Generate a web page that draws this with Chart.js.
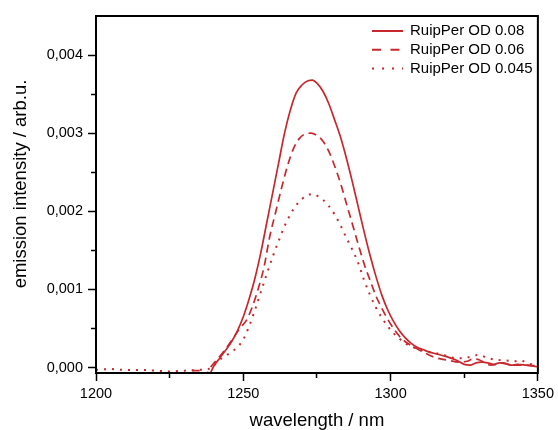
<!DOCTYPE html>
<html lang="en">
<head>
  <meta charset="UTF-8" />
  <title>RuipPer emission</title>
  <script src="https://cdn.jsdelivr.net/npm/chart.js"></script>
  <style>
    html, body { margin: 0; padding: 0; background: #fff; }
    #wrap { width: 558px; height: 430px; }
  </style>
</head>
<body>
<div id="wrap"><canvas id="emChart" width="558" height="430"></canvas></div>
<script>
  // wavelength (nm) / emission intensity (arb.u.)
  const wl08 = [1238.5, 1240, 1242, 1244, 1246, 1248, 1250, 1252, 1254, 1256, 1258, 1260, 1262, 1264, 1266, 1268, 1270, 1272, 1273.5, 1275, 1277, 1279, 1281, 1283, 1285, 1287, 1289, 1291, 1293, 1295, 1297, 1299, 1301, 1303, 1305, 1307, 1309, 1311, 1313, 1316, 1319, 1322, 1325, 1327, 1329, 1331, 1333, 1335, 1337, 1339, 1341, 1343, 1346, 1348, 1350];
  const em08 = [-0.0001, 0.00002, 0.00012, 0.00022, 0.00033, 0.00047, 0.00065, 0.00088, 0.00115, 0.00148, 0.00186, 0.00224, 0.00262, 0.003, 0.0033, 0.00352, 0.00362, 0.00367, 0.00368, 0.00364, 0.00354, 0.00338, 0.00317, 0.00295, 0.00268, 0.00238, 0.00206, 0.00174, 0.00144, 0.00117, 0.00093, 0.00074, 0.00059, 0.00047, 0.00038, 0.00031, 0.00026, 0.00023, 0.0002, 0.00017, 0.00014, 0.0001, 0.00004, 0.00003, 0.00006, 0.00007, 0.00006, 0.00004, 0.00006, 0.00005, 0.00003, 0.00004, 0.00003, 0.00002, 0.00001];

  const wl06 = [1232.5, 1236, 1237, 1239, 1241, 1243, 1245, 1247, 1249, 1251, 1253, 1255, 1257, 1259, 1261, 1263, 1265, 1267, 1269, 1271, 1273, 1275, 1277, 1279, 1281, 1283, 1285, 1287, 1289, 1291, 1293, 1295, 1297, 1299, 1301, 1303, 1305, 1307, 1309, 1311, 1313, 1315, 1317, 1320, 1323, 1326, 1328, 1330, 1332, 1334, 1336, 1338, 1340, 1343, 1346, 1350];
  const em06 = [-0.00004, -0.00004, -0.0001, 0.00001, 0.0001, 0.00019, 0.00029, 0.0004, 0.00051, 0.0006, 0.00077, 0.001, 0.00128, 0.00168, 0.00199, 0.0023, 0.00258, 0.0028, 0.00293, 0.00299, 0.003, 0.00297, 0.0029, 0.00277, 0.00258, 0.00236, 0.0021, 0.00184, 0.00158, 0.00133, 0.00112, 0.00092, 0.00076, 0.00062, 0.0005, 0.0004, 0.00033, 0.00028, 0.00024, 0.0002, 0.00016, 0.00013, 0.00011, 0.00009, 0.00007, 0.00008, 0.00011, 0.0001, 0.00006, 0.00003, 0.00004, 0.00006, 0.00004, 0.00003, 0.00003, 0.00002];

  const wl045 = [1200, 1205, 1210, 1215, 1220, 1225, 1230, 1235, 1238, 1240, 1242, 1244, 1246, 1248, 1250, 1252, 1254, 1256, 1258, 1260, 1262, 1264, 1266, 1268, 1270, 1272, 1273.5, 1275, 1277, 1279, 1281, 1283, 1285, 1287, 1289, 1291, 1293, 1295, 1297, 1299, 1301, 1303, 1305, 1307, 1310, 1313, 1316, 1319, 1322, 1325, 1328, 1330, 1333, 1336, 1339, 1342, 1344, 1347, 1350];
  const em045 = [-0.00003, -0.00002, -0.00003, -0.00003, -0.00004, -0.00005, -0.00004, -0.00003, -0.00002, 0.00003, 0.0001, 0.00015, 0.0002, 0.00026, 0.00036, 0.00053, 0.00074, 0.00097, 0.0012, 0.00142, 0.00162, 0.00181, 0.00196, 0.00208, 0.00216, 0.00221, 0.00222, 0.0022, 0.00215, 0.00207, 0.00196, 0.00182, 0.00166, 0.00151, 0.00134, 0.00112, 0.00093, 0.00077, 0.00064, 0.00053, 0.00044, 0.00037, 0.00031, 0.00027, 0.00023, 0.0002, 0.00018, 0.00015, 0.00012, 0.00012, 0.00015, 0.00016, 0.00012, 0.0001, 0.00009, 0.00008, 0.00009, 0.00005, 0.00003];

  const seriesNames = ['RuipPer OD 0.08', 'RuipPer OD 0.06', 'RuipPer OD 0.045'];

  const xTicks = [1200, 1250, 1300, 1350];
  const xMinor = [1225, 1275, 1325];
  const yTicks = [0, 0.001, 0.002, 0.003, 0.004];
  const yMinor = [0.0005, 0.0015, 0.0025, 0.0035];

  const RED = '#c8282d';
  const FONT = "'Liberation Sans', Arial, sans-serif";
  const dashes = [[], [8, 5], [2, 6]];
  const legendDashes = [[], [9, 9.5], [2, 8]];

  const pts = (xs, ys) => xs.map((x, i) => ({ x: x, y: ys[i] }));

  const frameAndLegend = {
    id: 'frameAndLegend',
    afterDraw(chart) {
      const ctx = chart.ctx;
      const a = chart.chartArea;
      ctx.save();
      ctx.strokeStyle = '#000';
      ctx.lineWidth = 2;
      ctx.strokeRect(a.left, a.top, a.right - a.left, a.bottom - a.top);

      // legend, top right inside the frame
      ctx.font = '15px ' + FONT;
      ctx.textBaseline = 'middle';
      ctx.textAlign = 'left';
      seriesNames.forEach((name, i) => {
        const y = 31 + i * 18.7;
        ctx.strokeStyle = RED;
        ctx.lineWidth = 2;
        ctx.setLineDash(legendDashes[i]);
        ctx.beginPath();
        ctx.moveTo(372, y);
        ctx.lineTo(403, y);
        ctx.stroke();
        ctx.setLineDash([]);
        ctx.fillStyle = '#000';
        ctx.fillText(name, 410, y);
      });

      // y axis title
      ctx.translate(21, 184);
      ctx.rotate(-Math.PI / 2);
      ctx.font = '18.5px ' + FONT;
      ctx.textAlign = 'center';
      ctx.fillStyle = '#000';
      ctx.fillText('emission intensity / arb.u.', 0, 0);
      ctx.restore();
    }
  };

  const ctx = document.getElementById('emChart').getContext('2d');
  new Chart(ctx, {
    type: 'line',
    data: {
      datasets: [
        { label: seriesNames[0], data: pts(wl08, em08) },
        { label: seriesNames[1], data: pts(wl06, em06) },
        { label: seriesNames[2], data: pts(wl045, em045) }
      ].map((d, i) => Object.assign(d, {
        borderColor: RED,
        borderWidth: i === 2 ? 2 : 1.7,
        borderDash: dashes[i],
        pointRadius: 0,
        fill: false,
        cubicInterpolationMode: 'monotone'
      }))
    },
    options: {
      responsive: false,
      animation: false,
      layout: { padding: { top: 16, right: 17, left: 0, bottom: 0 } },
      plugins: { legend: { display: false }, tooltip: { enabled: false } },
      scales: {
        x: {
          type: 'linear',
          min: 1200,
          max: 1350,
          afterBuildTicks: s => { s.ticks = xTicks.concat(xMinor).sort((p, q) => p - q).map(v => ({ value: v })); },
          afterFit: s => { s.height = 57; },
          ticks: {
            autoSkip: false,
            maxRotation: 0,
            padding: 4,
            color: '#000',
            font: { family: FONT, size: 14.5 },
            callback: v => xTicks.includes(v) ? String(v) : ''
          },
          grid: {
            drawOnChartArea: false,
            drawTicks: true,
            tickLength: 8,
            tickColor: '#000',
            tickWidth: 1.5,
            tickBorderDash: c => xMinor.includes(c.tick && c.tick.value) ? [4, 20] : []
          },
          border: { display: true, color: '#000', width: 2 },
          title: {
            display: true,
            text: 'wavelength / nm',
            color: '#000',
            font: { family: FONT, size: 18.5, lineHeight: 1 },
            padding: { top: 0, bottom: 0 }
          }
        },
        y: {
          type: 'linear',
          min: -0.00007,
          max: 0.0045,
          afterBuildTicks: s => { s.ticks = yTicks.concat(yMinor).sort((p, q) => p - q).map(v => ({ value: v })); },
          afterFit: s => { s.width = 96; },
          ticks: {
            autoSkip: false,
            padding: 5,
            color: '#000',
            font: { family: FONT, size: 14.5 },
            callback: v => yTicks.includes(v) ? v.toFixed(3).replace('.', ',') : ''
          },
          grid: {
            drawOnChartArea: false,
            drawTicks: true,
            tickLength: 8,
            tickColor: '#000',
            tickWidth: 1.5,
            tickBorderDash: c => yMinor.includes(c.tick && c.tick.value) ? [4, 10] : [],
            tickBorderDashOffset: c => yMinor.includes(c.tick && c.tick.value) ? 11 : 0
          },
          border: { display: true, color: '#000', width: 2 },
          title: { display: false }
        }
      }
    },
    plugins: [frameAndLegend]
  });
</script>
</body>
</html>
